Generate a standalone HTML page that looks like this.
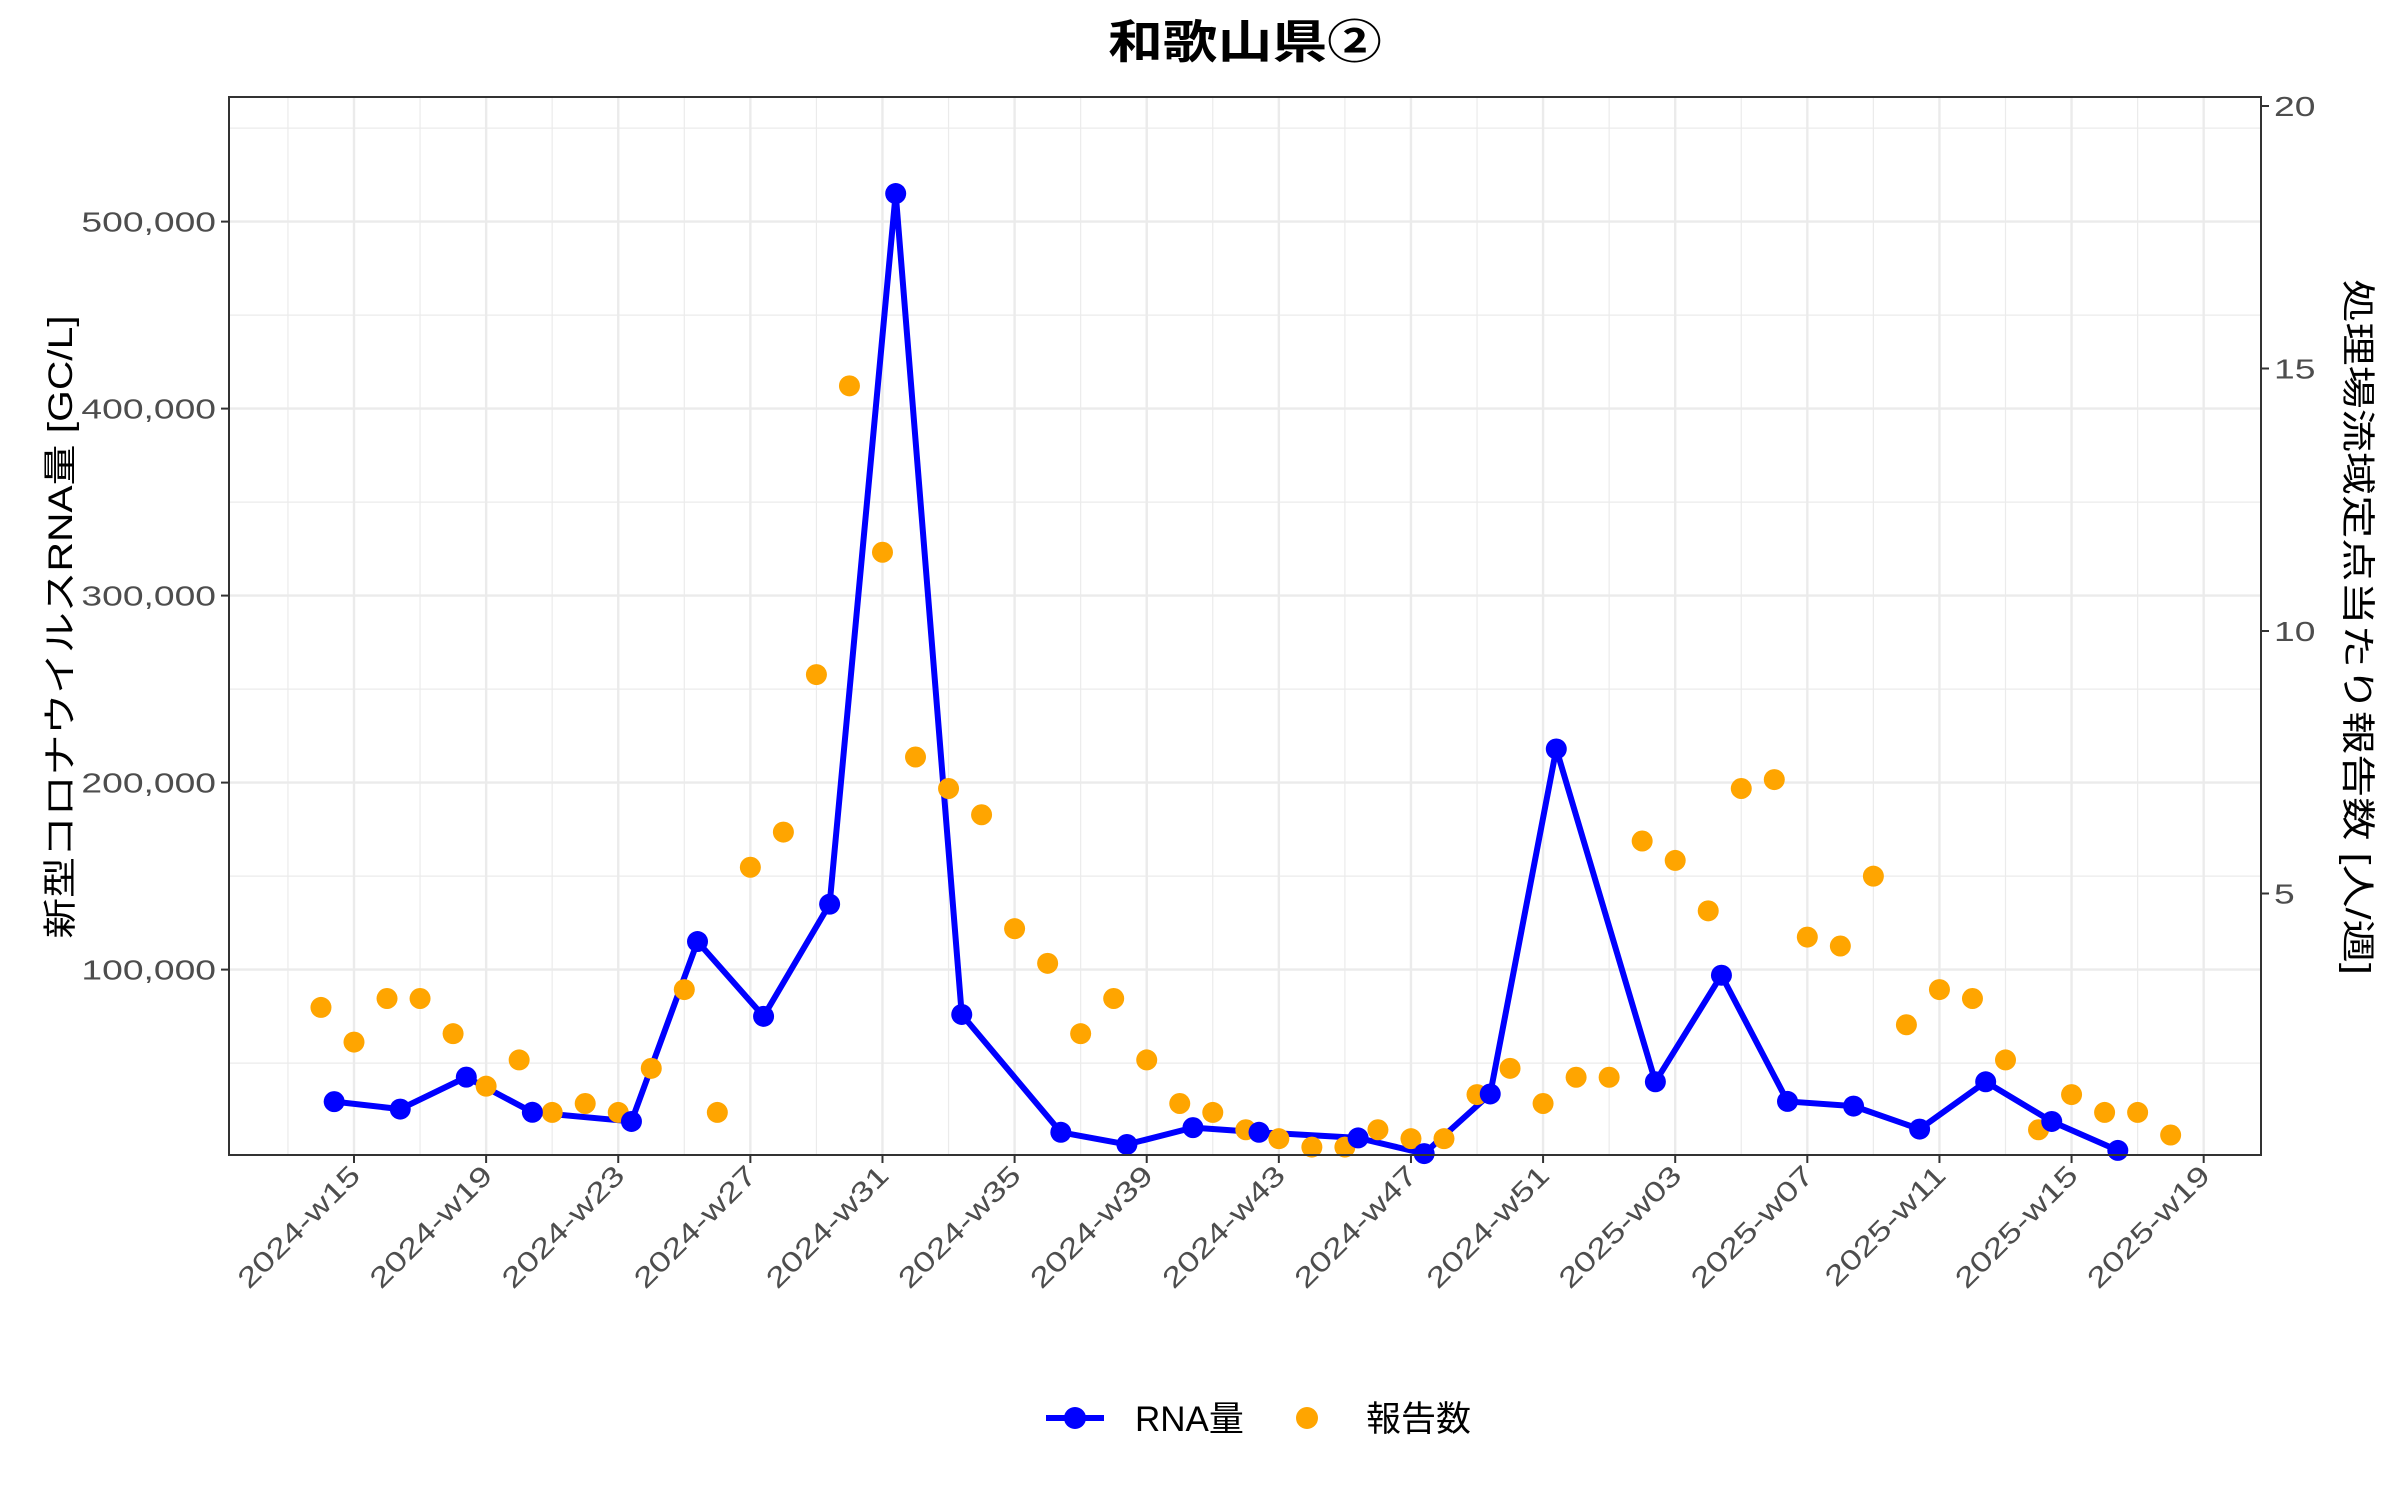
<!DOCTYPE html>
<html><head><meta charset="utf-8"><style>
html,body{margin:0;padding:0;background:#fff;}
svg{display:block;font-family:"Liberation Sans","Noto Sans CJK JP",sans-serif;}
</style></head><body>
<svg id="chart" width="2400" height="1500" viewBox="0 0 2400 1500" xmlns="http://www.w3.org/2000/svg">
<text transform="translate(1245,58) scale(1.19,1)" text-anchor="middle" font-size="46" font-weight="bold" fill="#000">和歌山県②</text>
<g id="grid"></g>
<g id="marks"></g>
<rect x="229" y="97" width="2032" height="1058" fill="none" stroke="#333" stroke-width="2"/>
<g id="axes"></g>
<text transform="translate(72,627) rotate(-90) scale(1.2,1)" text-anchor="middle" font-size="34" fill="#000">新型コロナウイルスRNA量 [GC/L]</text>
<text transform="translate(2346,627) rotate(90) scale(1.27,1)" text-anchor="middle" font-size="34" fill="#000">処理場流域定点当たり報告数 [人/週]</text>
<g>
<line x1="1046" y1="1418" x2="1104" y2="1418" stroke="#0000FF" stroke-width="6"/>
<circle cx="1075" cy="1418" r="11" fill="#0000FF"/>
<text x="1135" y="1431" font-size="35" fill="#000">RNA量</text>
<circle cx="1307" cy="1418" r="11" fill="#FFA500"/>
<text x="1366" y="1431" font-size="35" fill="#000">報告数</text>
</g>
</svg>
<script>
const rnaWeeks = [-0.6,1.4,3.4,5.4,8.4,10.4,12.4,14.4,16.4,18.4,21.4,23.4,25.4,27.4,30.4,32.4,34.4,36.4,39.4,41.4,43.4,45.4,47.4,49.4,51.4,53.4];
const rnaValues = [29400,25400,42500,23700,18800,115000,75000,135000,515000,76000,13000,6500,15500,13000,10000,1600,33500,218000,40000,97000,29500,27000,14700,40000,18800,3300];
const reportWeeks = [-1,0,1,2,3,4,5,6,7,8,9,10,11,12,13,14,15,16,17,18,19,20,21,22,23,24,25,26,27,28,29,30,31,32,33,34,35,36,37,38,39,40,41,42,43,44,45,46,47,48,49,50,51,52,53,54,55];
const reportValues = [2.83,2.17,3.0,3.0,2.33,1.33,1.83,0.83,1.0,0.83,1.67,3.17,0.83,5.5,6.17,9.17,14.67,11.5,7.6,7.0,6.5,4.33,3.67,2.33,3.0,1.83,1.0,0.83,0.5,0.33,0.17,0.17,0.5,0.33,0.33,1.17,1.67,1.0,1.5,1.5,6.0,5.63,4.67,7.0,7.17,4.17,4.0,5.33,2.5,3.17,3.0,1.83,0.5,1.17,0.83,0.83,0.4];
const xTickLabels = ["2024-w15","2024-w19","2024-w23","2024-w27","2024-w31","2024-w35","2024-w39","2024-w43","2024-w47","2024-w51","2025-w03","2025-w07","2025-w11","2025-w15","2025-w19"];
const leftTickValues = [100000,200000,300000,400000,500000];
const leftTickLabels = ["100,000","200,000","300,000","400,000","500,000"];
const rightTickValues = [5,10,15,20];
const rightTickLabels = ["5","10","15","20"];

const NS = "http://www.w3.org/2000/svg";
const L=229,R=2261,T=97,B=1155;
function xs(w){return 354+33.03*w;}
function yl(v){return 1156.6-v*0.00187;}
function yr(v){return 1156-v*52.5;}
function mk(tag,attrs,parent){const e=document.createElementNS(NS,tag);for(const k in attrs)e.setAttribute(k,attrs[k]);parent.appendChild(e);return e;}
const grid=document.getElementById('grid'),marks=document.getElementById('marks'),axes=document.getElementById('axes');
mk('rect',{x:L,y:T,width:R-L,height:B-T,fill:'#fff'},grid);
for(let v=50000;v<=560000;v+=100000){const y=yl(v);const g=mk('line',{x1:L,x2:R,y1:y,y2:y,stroke:'#EBEBEB','stroke-width':1.2},grid);

}
for(let i=0;i<xTickLabels.length+1;i++){const x=xs(i*4-2);if(x<L||x>R)continue;const g=mk('line',{x1:x,x2:x,y1:T,y2:B,stroke:'#EBEBEB','stroke-width':1.2},grid);

}
leftTickValues.forEach((v,i)=>{const y=yl(v);const g=mk('line',{x1:L,x2:R,y1:y,y2:y,stroke:'#EBEBEB','stroke-width':2.4},grid);


const t=mk('line',{x1:L-8,x2:L,y1:y,y2:y,stroke:'#333','stroke-width':2},axes);


const lb=mk('text',{transform:`translate(${L-13},${y+10}) scale(1.33,1)`,'text-anchor':'end','font-size':28,fill:'#4D4D4D'},axes);lb.textContent=leftTickLabels[i];

});
xTickLabels.forEach((s,i)=>{const x=xs(i*4);const g=mk('line',{x1:x,x2:x,y1:T,y2:B,stroke:'#EBEBEB','stroke-width':2.4},grid);


const t=mk('line',{x1:x,x2:x,y1:B,y2:B+8,stroke:'#333','stroke-width':2},axes);


const lb=mk('text',{transform:`translate(${x+8},${B+22}) rotate(-45) scale(1.3,1)`,'text-anchor':'end','font-size':28,fill:'#4D4D4D'},axes);lb.textContent=s;

});
rightTickValues.forEach((v,i)=>{const y=yr(v);
const t=mk('line',{x1:R,x2:R+8,y1:y,y2:y,stroke:'#333','stroke-width':2},axes);


const lb=mk('text',{transform:`translate(${R+13},${y+10}) scale(1.33,1)`,'text-anchor':'start','font-size':28,fill:'#4D4D4D'},axes);lb.textContent=rightTickLabels[i];

});
const pts=rnaWeeks.map((w,i)=>xs(w)+','+yl(rnaValues[i])).join(' ');
const pl=mk('polyline',{points:pts,fill:'none',stroke:'#0000FF','stroke-width':6,'stroke-linejoin':'round'},marks);


reportWeeks.forEach((w,i)=>{const c=mk('circle',{cx:xs(w),cy:yr(reportValues[i]),r:10.5,fill:'#FFA500'},marks);

});
rnaWeeks.forEach((w,i)=>{const c=mk('circle',{cx:xs(w),cy:yl(rnaValues[i]),r:10.5,fill:'#0000FF'},marks);

});
</script>
</body></html>
